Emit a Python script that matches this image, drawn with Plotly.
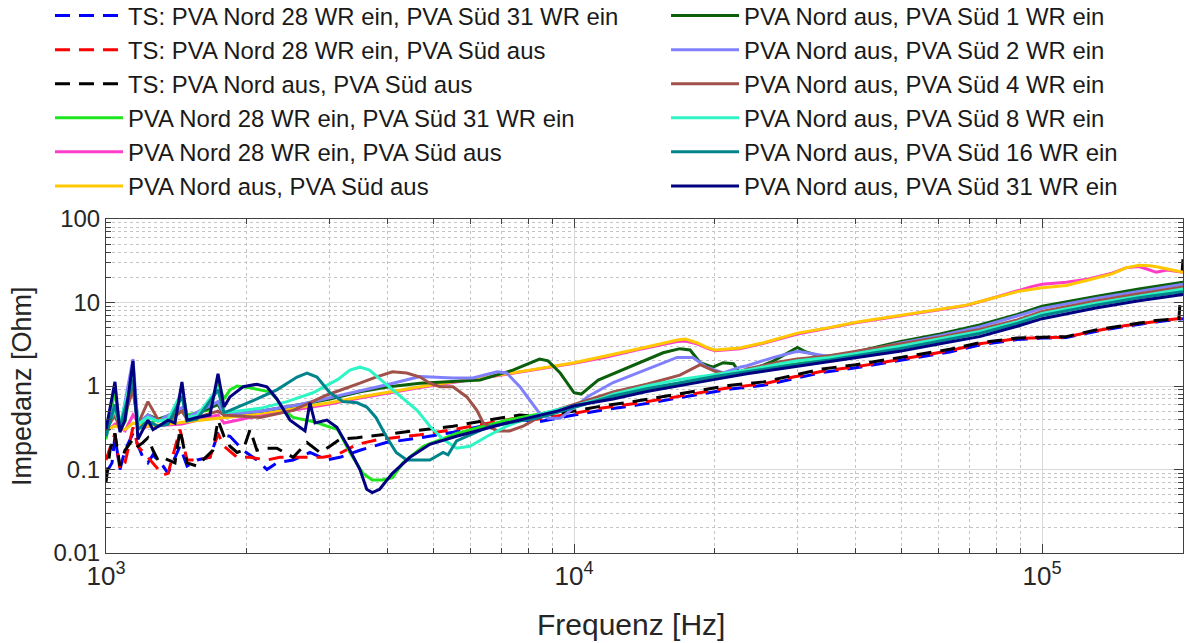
import plotly.graph_objects as go

# ---------------- data ----------------
names = [
    "TS: PVA Nord 28 WR ein, PVA Süd 31 WR ein",
    "TS: PVA Nord 28 WR ein, PVA Süd aus",
    "TS: PVA Nord aus, PVA Süd aus",
    "PVA Nord 28 WR ein, PVA Süd 31 WR ein",
    "PVA Nord 28 WR ein, PVA Süd aus",
    "PVA Nord aus, PVA Süd aus",
    "PVA Nord aus, PVA Süd 1 WR ein",
    "PVA Nord aus, PVA Süd 2 WR ein",
    "PVA Nord aus, PVA Süd 4 WR ein",
    "PVA Nord aus, PVA Süd 8 WR ein",
    "PVA Nord aus, PVA Süd 16 WR ein",
    "PVA Nord aus, PVA Süd 31 WR ein",
]
x_title = "Frequenz [Hz]"
y_title = "Impedanz [Ohm]"

f_ts_blue = [1000, 1030, 1045, 1071, 1098, 1142, 1199, 1229, 1260, 1324, 1357, 1439, 1490, 1565, 1668,
             1735, 1840, 1963, 2101, 2207, 2318, 2511, 2727, 2965, 3160, 3488, 3967, 4688, 5512, 6525,
             7660, 8330, 10000, 11360, 13600, 16000, 18600, 21600, 25400, 29400, 33900, 40000, 46500,
             54800, 63500, 73500, 88500, 100000, 112600, 130200, 151000, 177800, 200000]
z_ts_blue = [0.09, 0.12, 0.25, 0.10, 0.17, 0.27, 0.14, 0.12, 0.15, 0.11, 0.09, 0.19, 0.11, 0.13, 0.14,
             0.27, 0.25, 0.17, 0.13, 0.10, 0.12, 0.13, 0.16, 0.13, 0.14, 0.17, 0.21, 0.24, 0.28, 0.34,
             0.40, 0.37, 0.45, 0.51, 0.59, 0.69, 0.79, 0.92, 1.02, 1.22, 1.45, 1.65, 1.90,
             2.20, 2.55, 3.10, 3.60, 3.75, 3.80, 4.50, 5.20, 5.90, 6.40]

f_ts_red = [1000, 1045, 1071, 1098, 1142, 1170, 1229, 1291, 1324, 1357, 1439, 1490, 1565, 1668, 1735,
            1787, 1906, 2031, 2207, 2353, 2560, 2907, 3114, 3440, 3843, 4688, 5512, 6525, 7660, 8330,
            10000, 11360, 13600, 16000, 18600, 21600, 25400, 29400, 33900, 40000, 46500, 54800, 63500,
            73500, 88500, 100000, 112600, 130200, 151000, 177800, 200000]
z_ts_red = [0.13, 0.27, 0.10, 0.12, 0.32, 0.19, 0.14, 0.10, 0.086, 0.09, 0.30, 0.13, 0.13, 0.14, 0.27,
            0.19, 0.14, 0.14, 0.13, 0.14, 0.14, 0.14, 0.15, 0.20, 0.23, 0.26, 0.30, 0.36, 0.42, 0.40,
            0.47, 0.54, 0.62, 0.72, 0.83, 0.96, 1.06, 1.28, 1.50, 1.70, 1.95, 2.30, 2.65,
            3.20, 3.70, 3.80, 3.85, 4.60, 5.30, 6.00, 6.50]

f_ts_black = [1000, 1020, 1045, 1071, 1098, 1142, 1170, 1199, 1229, 1260, 1291, 1324, 1357, 1404, 1439,
              1490, 1565, 1611, 1692, 1735, 1787, 1840, 1906, 1963, 2031, 2101, 2207, 2318, 2511, 2688,
              2865, 3009, 3160, 3440, 3655, 4092, 4688, 5512, 6525, 7660, 8330, 10000, 11360, 13600,
              16000, 18600, 21600, 25400, 29400, 33900, 40000, 46500, 54800, 63500, 73500, 88500,
              100000, 112600, 130200, 151000, 175000, 196000, 200000]
z_ts_black = [0.07, 0.17, 0.27, 0.11, 0.17, 0.23, 0.19, 0.21, 0.24, 0.17, 0.13, 0.14, 0.13, 0.12, 0.30,
              0.12, 0.11, 0.13, 0.17, 0.39, 0.25, 0.19, 0.16, 0.17, 0.30, 0.17, 0.18, 0.18, 0.14, 0.21,
              0.16, 0.19, 0.23, 0.24, 0.25, 0.27, 0.30, 0.33, 0.39, 0.45, 0.43, 0.50, 0.57, 0.66,
              0.77, 0.88, 1.02, 1.12, 1.35, 1.60, 1.80, 2.05, 2.40, 2.75, 3.30, 3.75,
              3.85, 3.90, 4.70, 5.40, 6.10, 6.40, 33.0]

f_green = [1000, 1045, 1071, 1098, 1142, 1170, 1229, 1291, 1357, 1404, 1453, 1490, 1565, 1668, 1735,
           1787, 1840, 1906, 2031, 2134, 2240, 2318, 2389, 2511, 2637, 2796, 2965, 3129, 3320, 3538,
           3705, 3890, 4092, 4308, 4762, 5609, 7180, 9200, 10000, 12120, 14300, 16830, 20000, 23400,
           27600, 30000, 35100, 40000, 49600, 60500, 73500, 88500, 100000, 130200, 161000, 200000]
z_green = [0.23, 0.90, 0.30, 0.37, 1.40, 0.38, 0.35, 0.40, 0.38, 0.40, 0.90, 0.45, 0.48, 0.52, 1.10,
           0.70, 0.90, 1.00, 0.95, 0.90, 0.85, 0.70, 0.52, 0.42, 0.40, 0.37, 0.33, 0.30, 0.16, 0.09,
           0.075, 0.075, 0.08, 0.12, 0.19, 0.27, 0.39, 0.51, 0.58, 0.74, 0.92, 1.08, 1.30, 1.50,
           1.75, 1.85, 2.15, 2.40, 2.90, 3.60, 4.40, 5.90, 7.20, 9.50, 11.5, 14.0]

f_magenta = [1000, 1045, 1098, 1142, 1199, 1229, 1453, 1735, 1787, 2031, 2598, 3009, 3488, 4023, 4688,
             5512, 6620, 8040, 10000, 11600, 13600, 15500, 16600, 17300, 18300, 19200, 20000, 22600,
             25400, 30000, 35100, 40000, 46500, 52900, 60500, 68900, 77200, 88500, 95000, 100000,
             112600, 125000, 141000, 151000, 161000, 168000, 175200, 185000, 200000]
z_magenta = [0.28, 0.35, 0.29, 0.45, 0.31, 0.33, 0.35, 0.45, 0.36, 0.42, 0.53, 0.61, 0.72, 0.83, 0.96,
             1.10, 1.28, 1.53, 1.87, 2.20, 2.70, 3.15, 3.40, 3.45, 3.20, 2.85, 2.65, 2.80,
             3.25, 4.20, 4.95, 5.70, 6.50, 7.30, 8.10, 9.20, 11.0, 13.8, 15.5, 16.5,
             17.5, 19.0, 22.5, 26.0, 27.0, 25.0, 23.0, 24.5, 23.0]

f_yellow = [1000, 1045, 1098, 1142, 1229, 1453, 1735, 2031, 2598, 3009, 3488, 4023, 4688, 5512, 6620,
            8040, 10000, 11600, 13600, 15500, 16600, 17300, 18300, 19200, 20000, 22600, 25400, 30000,
            35100, 40000, 46500, 52900, 60500, 68900, 77200, 88500, 100000, 112600, 125000, 141000,
            151000, 161000, 170000, 177800, 193000, 200000]
z_yellow = [0.30, 0.33, 0.30, 0.36, 0.33, 0.37, 0.41, 0.45, 0.55, 0.63, 0.74, 0.85, 0.98, 1.12, 1.30,
            1.55, 1.90, 2.25, 2.75, 3.25, 3.55, 3.65, 3.30, 2.90, 2.70, 2.85, 3.30, 4.30,
            5.00, 5.80, 6.60, 7.40, 8.20, 9.30, 11.0, 13.5, 15.0, 16.0, 18.5, 22.0,
            26.0, 28.0, 27.5, 26.5, 24.0, 23.0]

f_sued1 = [1000, 1045, 1071, 1142, 1170, 1229, 1291, 1453, 1490, 1735, 1787, 2134, 2598, 3009, 3488,
           4023, 4688, 5609, 6300, 7400, 8440, 8800, 9340, 10000, 10360, 11260, 13100, 15500, 16830,
           17700, 18600, 19800, 20830, 21900, 22600, 23400, 26700, 30000, 31300, 33900, 38100, 49600,
           60500, 73500, 88500, 100000, 130200, 161000, 200000]
z_sued1 = [0.30, 0.50, 0.30, 1.00, 0.35, 0.45, 0.40, 0.50, 0.42, 0.60, 0.45, 0.50, 0.60, 0.70, 0.85,
           0.98, 1.08, 1.15, 1.18, 1.55, 2.10, 2.00, 1.43, 0.83, 0.80, 1.18, 1.68, 2.50, 2.80,
           2.70, 1.90, 1.68, 1.90, 1.85, 1.43, 1.48, 2.00, 2.90, 2.55, 2.25, 2.40, 3.40,
           4.20, 5.40, 7.20, 9.00, 11.8, 14.5, 17.5]

f_sued2 = [1000, 1045, 1071, 1142, 1170, 1229, 1291, 1453, 1490, 1735, 1787, 2134, 2598, 3009, 3488,
           4023, 4688, 5512, 6080, 6850, 7180, 7660, 8040, 8440, 8800, 9340, 10000, 10710, 12120, 14300,
           16600, 17940, 19200, 20830, 22600, 23400, 26700, 30000, 31300, 35100, 40000, 49600, 60500,
           73500, 88500, 100000, 130200, 161000, 200000]
z_sued2 = [0.33, 0.60, 0.30, 2.10, 0.35, 0.45, 0.38, 0.55, 0.42, 0.65, 0.45, 0.50, 0.60, 0.72, 0.88,
           1.05, 1.30, 1.25, 1.25, 1.48, 1.43, 0.98, 0.68, 0.47, 0.41, 0.41, 0.55, 0.75, 1.10, 1.60,
           2.20, 2.20, 1.68, 1.43, 1.68, 1.75, 2.20, 2.60, 2.50, 2.25, 2.45, 3.25, 4.00,
           5.10, 6.90, 8.50, 11.2, 13.7, 16.6]

f_sued4 = [1000, 1045, 1071, 1142, 1170, 1229, 1291, 1357, 1453, 1490, 1565, 1735, 1787, 2134, 2511,
           2965, 3488, 3773, 4092, 4390, 4688, 4920, 5168, 5512, 5900, 6200, 6400, 6850, 7280, 7780,
           8330, 9000, 10000, 10710, 12120, 14300, 16830, 18600, 20000, 21600, 23400, 27600, 30000,
           35100, 40000, 49600, 60500, 73500, 88500, 100000, 130200, 161000, 200000]
z_sued4 = [0.30, 0.45, 0.30, 0.90, 0.35, 0.65, 0.40, 0.38, 0.50, 0.40, 0.42, 0.50, 0.45, 0.42, 0.51,
           0.78, 1.08, 1.28, 1.48, 1.43, 1.28, 1.08, 0.98, 0.98, 0.74, 0.51, 0.36, 0.29, 0.29, 0.33,
           0.41, 0.50, 0.60, 0.68, 0.85, 1.05, 1.35, 1.80, 1.50, 1.35, 1.60, 1.95, 2.10,
           2.30, 2.60, 3.15, 3.85, 4.75, 6.20, 7.80, 10.4, 12.7, 15.3]

f_sued8 = [1000, 1045, 1071, 1142, 1170, 1229, 1291, 1357, 1453, 1490, 1565, 1735, 1787, 2134, 2436,
           2768, 3129, 3320, 3488, 3655, 4023, 4308, 4620, 4920, 5250, 5609, 5990, 6525, 7180, 7930,
           8800, 10000, 11360, 12120, 14300, 16830, 20000, 23400, 27600, 30000, 35100, 40000, 49600,
           60500, 73500, 88500, 100000, 130200, 161000, 200000]
z_sued8 = [0.33, 0.50, 0.35, 1.45, 0.35, 0.42, 0.38, 0.40, 0.85, 0.42, 0.44, 0.95, 0.48, 0.54, 0.65,
           0.83, 1.20, 1.55, 1.68, 1.55, 0.98, 0.70, 0.51, 0.33, 0.23, 0.18, 0.19, 0.25, 0.33, 0.41,
           0.49, 0.58, 0.70, 0.80, 1.00, 1.20, 1.38, 1.55, 1.85, 2.00, 2.20, 2.45, 3.00,
           3.65, 4.50, 5.90, 7.40, 9.80, 12.0, 14.5]

f_sued16 = [1000, 1045, 1071, 1142, 1170, 1229, 1291, 1357, 1453, 1490, 1565, 1735, 1787, 1840, 2101,
            2318, 2560, 2688, 2823, 3009, 3207, 3440, 3606, 3773, 3967, 4169, 4390, 4620, 4920, 5250,
            5380, 5609, 6620, 8440, 10000, 10880, 12120, 14300, 16830, 20000, 23400, 27600, 30000,
            35100, 40000, 49600, 60500, 73500, 88500, 100000, 130200, 161000, 200000]
z_sued16 = [0.25, 0.60, 0.32, 1.20, 0.30, 0.38, 0.33, 0.35, 0.75, 0.38, 0.40, 0.90, 0.48, 0.51, 0.70,
            0.90, 1.28, 1.43, 1.28, 0.83, 0.65, 0.63, 0.56, 0.42, 0.25, 0.16, 0.13, 0.13, 0.13, 0.16,
            0.15, 0.22, 0.33, 0.42, 0.55, 0.63, 0.76, 0.93, 1.10, 1.30, 1.48, 1.72, 1.82,
            2.05, 2.30, 2.80, 3.45, 4.25, 5.60, 7.00, 9.30, 11.4, 13.5]

f_sued31 = [1000, 1045, 1071, 1098, 1142, 1170, 1229, 1260, 1357, 1404, 1453, 1490, 1565, 1668, 1735,
            1787, 1840, 1963, 2101, 2207, 2318, 2473, 2662, 2727, 2796, 2965, 3114, 3320, 3488, 3606,
            3705, 3843, 4092, 4460, 4920, 5609, 7180, 9200, 10000, 12120, 14300, 16830, 20000, 23400,
            27600, 30000, 35100, 40000, 49600, 60500, 73500, 88500, 100000, 130200, 161000, 200000]
z_sued31 = [0.30, 1.12, 0.28, 0.39, 2.00, 0.23, 0.39, 0.30, 0.39, 0.36, 1.12, 0.39, 0.42, 0.45, 1.40,
            0.56, 0.74, 0.98, 1.05, 0.98, 0.70, 0.39, 0.29, 0.63, 0.36, 0.39, 0.32, 0.17, 0.10, 0.058,
            0.053, 0.058, 0.09, 0.14, 0.20, 0.25, 0.36, 0.50, 0.58, 0.70, 0.86, 1.02, 1.20, 1.40,
            1.60, 1.70, 1.95, 2.15, 2.60, 3.20, 3.90, 5.20, 6.40, 8.60, 10.5, 12.5]

x_tick_vals = [1e3, 1e4, 1e5]
x_tick_text = ["10<sup>3</sup>", "10<sup>4</sup>", "10<sup>5</sup>"]
y_tick_vals = [0.01, 0.1, 1, 10, 100]
y_tick_text = ["0.01", "0.1", "1", "10", "100"]

# ---------------- styles ----------------
colors = ["#0000FF", "#FF0000", "#000000", "#1EE61E", "#FF3CC8", "#FFC800",
          "#0B5E0B", "#8080FF", "#A0524A", "#2EF5C5", "#00848C", "#000080"]
dashes = ["15px,9px"] * 3 + ["solid"] * 9

series = [(f_ts_blue, z_ts_blue), (f_ts_red, z_ts_red), (f_ts_black, z_ts_black),
          (f_green, z_green), (f_magenta, z_magenta), (f_yellow, z_yellow),
          (f_sued1, z_sued1), (f_sued2, z_sued2), (f_sued4, z_sued4),
          (f_sued8, z_sued8), (f_sued16, z_sued16), (f_sued31, z_sued31)]

fig = go.Figure()
for i, ((fx, zy), nm) in enumerate(zip(series, names)):
    fig.add_trace(go.Scatter(
        x=fx, y=zy, name=nm, mode="lines",
        line=dict(color=colors[i], width=3, dash=dashes[i]),
        legend="legend" if i < 6 else "legend2",
    ))

FONT = "Liberation Sans, Arial, sans-serif"
minor_x = [m * 10 ** d for d in (3, 4) for m in range(2, 10)] + [2e5]
minor_y = [m * 10 ** d for d in (-2, -1, 0, 1) for m in range(2, 10)]

LEG_FONT = dict(size=23.9, color="#1a1a1a")
fig.update_layout(
    width=1187, height=643,
    margin=dict(l=106, r=4, t=219, b=90, autoexpand=False),
    paper_bgcolor="white", plot_bgcolor="white",
    font=dict(family=FONT, size=24, color="#262626"),
    showlegend=True,
    legend=dict(x=-0.052, y=1.675, xanchor="left", yanchor="top",
                font=LEG_FONT, bgcolor="rgba(0,0,0,0)",
                itemwidth=68, tracegroupgap=0),
    legend2=dict(x=0.52, y=1.675, xanchor="left", yanchor="top",
                 font=LEG_FONT, bgcolor="rgba(0,0,0,0)",
                 itemwidth=68, tracegroupgap=0),
    xaxis=dict(
        type="log", range=[3, 5.301],
        tickmode="array", tickvals=x_tick_vals, ticktext=x_tick_text,
        ticks="inside", ticklen=9, tickcolor="#404040",
        showline=True, linecolor="#404040", linewidth=1, mirror="allticks",
        showgrid=True, gridcolor="#d9d9d9", gridwidth=1,
        zeroline=False,
        tickfont=dict(size=26),
        minor=dict(tickmode="array", tickvals=minor_x, ticks="inside", ticklen=5,
                   tickcolor="#404040", showgrid=True, gridcolor="#c4c4c4",
                   griddash="dot", gridwidth=1),
    ),
    yaxis=dict(
        type="log", range=[-2, 2],
        tickmode="array", tickvals=y_tick_vals, ticktext=y_tick_text,
        ticks="inside", ticklen=9, tickcolor="#404040",
        showline=True, linecolor="#404040", linewidth=1, mirror="allticks",
        showgrid=True, gridcolor="#d9d9d9", gridwidth=1,
        zeroline=False,
        tickfont=dict(size=24),
        minor=dict(tickmode="array", tickvals=minor_y, ticks="inside", ticklen=5,
                   tickcolor="#404040", showgrid=True, gridcolor="#c4c4c4",
                   griddash="dot", gridwidth=1),
    ),
    annotations=[
        dict(text=x_title, xref="paper", yref="paper", x=0.4875, y=-0.2126,
             xanchor="center", yanchor="middle", showarrow=False,
             font=dict(size=30, color="#262626")),
        dict(text=y_title, xref="paper", yref="paper", x=-0.078, y=0.5,
             xanchor="center", yanchor="middle", textangle=-90, showarrow=False,
             font=dict(size=27, color="#262626")),
    ],
)

fig.write_html("out.html")
